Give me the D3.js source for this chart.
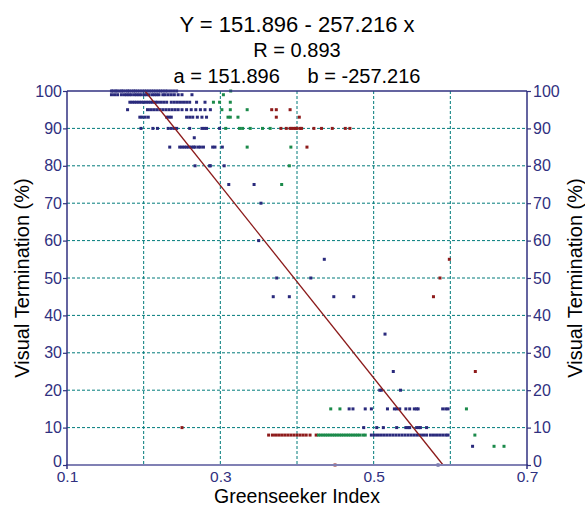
<!DOCTYPE html>
<html>
<head>
<meta charset="utf-8">
<script src="https://cdn.jsdelivr.net/npm/d3@7/dist/d3.min.js"></script>
<style>
  html, body { margin: 0; padding: 0; background: #fff; }
  svg { display: block; }
  text { font-family: Arial, "Liberation Sans", sans-serif; }
</style>
</head>
<body>
<svg id="chart" width="585" height="508"></svg>
<script>
// Regression coefficients
const interceptA = 151.896;
const slopeB = -257.216;
const corrR = 0.893;

// Axis ticks
const xTickValues = [0.1, 0.3, 0.5, 0.7];
const xGridValues = [0.2, 0.3, 0.4, 0.5, 0.6];
const yTickValues = [0, 10, 20, 30, 40, 50, 60, 70, 80, 90, 100];
const yGridValues = [10, 20, 30, 40, 50, 60, 70, 80, 90];

// Observations per site: [Greenseeker index, visual termination %]
const siteBlue = [
  [0.158,100],[0.160,100],[0.163,100],[0.165,100],[0.168,100],[0.171,100],[0.173,100],[0.176,100],[0.179,100],[0.181,100],
  [0.184,100],[0.187,100],[0.189,100],[0.192,100],[0.195,100],[0.198,100],[0.201,100],[0.204,100],[0.207,100],[0.210,100],
  [0.213,100],[0.216,100],[0.219,100],[0.222,100],[0.225,100],[0.228,100],[0.231,100],[0.235,100],[0.239,100],[0.243,100],
  [0.158,99],[0.162,99],[0.166,99],[0.171,99],[0.175,99],[0.178,99],[0.181,99],[0.184,99],[0.188,99],[0.191,99],
  [0.194,99],[0.197,99],[0.201,99],[0.204,99],[0.207,99],[0.211,99],[0.214,99],[0.217,99],[0.220,99],[0.225,99],
  [0.228,99],[0.232,99],[0.236,99],[0.240,99],[0.245,99],[0.250,99],[0.263,99],
  [0.182,97],[0.185,97],[0.188,97],[0.191,97],[0.194,97],[0.197,97],[0.200,97],[0.203,97],[0.206,97],[0.209,97],
  [0.212,97],[0.215,97],[0.218,97],[0.222,97],[0.226,97],[0.230,97],[0.236,97],[0.240,97],[0.244,97],[0.248,97],
  [0.252,97],[0.256,97],[0.260,97],[0.269,97],[0.280,97],
  [0.179,95],[0.205,95],[0.209,95],[0.213,95],[0.217,95],[0.221,95],[0.225,95],[0.229,95],[0.233,95],[0.237,95],
  [0.241,95],[0.245,95],[0.250,95],[0.256,95],[0.262,95],[0.268,95],[0.274,95],[0.280,95],[0.287,95],
  [0.195,93],[0.198,93],[0.202,93],[0.206,93],[0.230,93],[0.233,93],[0.236,93],[0.256,93],[0.260,93],[0.264,93],
  [0.270,93],[0.276,93],[0.282,93],
  [0.1965,90],[0.212,90],[0.218,90],[0.232,90],[0.236,90],[0.240,90],[0.243,90],[0.260,90],[0.276,90],[0.279,90],
  [0.282,90],[0.299,90],
  [0.266,87.5],
  [0.234,85],[0.247,85],[0.250,85],[0.253,85],[0.256,85],[0.259,85],[0.262,85],[0.265,85],[0.267,85],[0.271,85],
  [0.274,85],[0.278,85],[0.290,85],[0.293,85],[0.3026,85],
  [0.267,80],[0.286,80],[0.287,80],[0.305,80],
  [0.311,75],[0.344,75],
  [0.353,70],
  [0.350,60],
  [0.4356,55],
  [0.3735,50],[0.418,50],
  [0.369,45],[0.390,45],[0.448,45],[0.474,45],
  [0.5148,35],
  [0.5256,25],
  [0.508,20],[0.510,20],[0.535,20],
  [0.468,15],[0.473,15],[0.489,15],[0.497,15],[0.518,15],[0.527,15],[0.530,15],[0.534,15],[0.542,15],[0.547,15],
  [0.553,15],[0.556,15],[0.558,15],[0.590,15],[0.594,15],[0.597,15],
  [0.487,10],[0.504,10],[0.5126,10],[0.530,10],[0.542,10],[0.545,10],[0.547,10],[0.556,10],[0.559,10],[0.561,10],
  [0.569,10],
  [0.497,8],[0.501,8],[0.505,8],[0.509,8],[0.513,8],[0.517,8],[0.521,8],[0.525,8],[0.529,8],[0.533,8],
  [0.537,8],[0.541,8],[0.545,8],[0.549,8],[0.553,8],[0.557,8],[0.561,8],[0.565,8],[0.569,8],[0.574,8],
  [0.578,8],[0.582,8],[0.586,8],[0.590,8],[0.594,8],[0.597,8],
  [0.629,5],
  [0.584,0]
];

const siteRed = [
  [0.367,95],[0.373,95],[0.391,95],
  [0.373,93],[0.403,93],
  [0.379,90],[0.386,90],[0.391,90],[0.393,90],[0.396,90],[0.398,90],[0.400,90],[0.404,90],[0.406,90],
  [0.422,90],[0.432,90],[0.446,90],[0.463,90],[0.469,90],
  [0.413,85],
  [0.5987,55],
  [0.5865,50],
  [0.578,45],
  [0.6326,25],
  [0.250,10],
  [0.363,8],[0.368,8],[0.372,8],[0.376,8],[0.380,8],[0.384,8],[0.388,8],[0.392,8],[0.396,8],[0.400,8],
  [0.404,8],[0.408,8],[0.412,8],[0.417,8],[0.425,8],
  [0.4496,0]
];

const siteGreen = [
  [0.3135,100],
  [0.304,99],
  [0.291,97],[0.299,97],[0.313,97],
  [0.302,95],[0.313,95],[0.335,95],
  [0.310,93],[0.313,93],[0.323,93],
  [0.307,90],[0.325,90],[0.329,90],[0.339,90],[0.355,90],[0.365,90],
  [0.335,85],[0.392,85],
  [0.390,80],
  [0.380,75],
  [0.444,15],[0.456,15],[0.621,15],
  [0.428,8],[0.431,8],[0.434,8],[0.437,8],[0.440,8],[0.443,8],[0.446,8],[0.449,8],[0.452,8],[0.455,8],
  [0.458,8],[0.461,8],[0.464,8],[0.467,8],[0.470,8],[0.473,8],[0.476,8],[0.479,8],[0.482,8],[0.486,8],
  [0.489,8],[0.632,8],
  [0.657,5],[0.670,5]
];

const seriesList = [
  { data: siteBlue, color: "#2a2a7c" },
  { data: siteRed, color: "#8e1b1b" },
  { data: siteGreen, color: "#1b8a4a" }
];

const svg = d3.select("#chart");
const plot = { left: 67, right: 527, top: 91, bottom: 465 };

const x = d3.scaleLinear().domain([0.1, 0.7]).range([plot.left, plot.right]);
const y = d3.scaleLinear().domain([0, 100]).range([plot.bottom, plot.top]);

const axisColor = "#303080";
const gridColor = "#007b7b";

// Dotted grid
const grid = svg.append("g");
grid.selectAll("line.vg").data(xGridValues).join("line")
  .attr("x1", d => x(d)).attr("x2", d => x(d))
  .attr("y1", plot.top).attr("y2", plot.bottom)
  .attr("stroke", gridColor).attr("stroke-width", 1).attr("stroke-dasharray", "3,2");
grid.selectAll("line.hg").data(yGridValues).join("line")
  .attr("x1", plot.left).attr("x2", plot.right)
  .attr("y1", d => y(d)).attr("y2", d => y(d))
  .attr("stroke", gridColor).attr("stroke-width", 1).attr("stroke-dasharray", "3,2");

// Points
seriesList.forEach(s => {
  svg.append("g").selectAll("rect").data(s.data).join("rect")
    .attr("x", d => x(d[0]) - 1.5)
    .attr("y", d => y(d[1]) - 1.5)
    .attr("width", 3).attr("height", 3)
    .attr("fill", s.color);
});

// Regression line, clipped to the 0–100 range
const xAt = v => (v - interceptA) / slopeB;
svg.append("line")
  .attr("x1", x(xAt(100))).attr("y1", y(100))
  .attr("x2", x(xAt(0))).attr("y2", y(0))
  .attr("stroke", "#8b1a1a").attr("stroke-width", 1.3);

// Frame
svg.append("line").attr("x1", plot.left).attr("x2", plot.right)
  .attr("y1", plot.top).attr("y2", plot.top).attr("stroke", axisColor).attr("stroke-width", 1.5);
svg.append("line").attr("x1", plot.left - 1).attr("x2", plot.right + 1)
  .attr("y1", plot.bottom).attr("y2", plot.bottom).attr("stroke", "#8080b4").attr("stroke-width", 2);

// Left and right axes
const leftAxis = d3.axisLeft(y).tickValues(yTickValues).tickSize(4).tickPadding(1).tickFormat(d3.format("d"));
const rightAxis = d3.axisRight(y).tickValues(yTickValues).tickSize(4).tickPadding(2).tickFormat(d3.format("d"));
const bottomAxis = d3.axisBottom(x).tickValues(xTickValues).tickSize(0).tickPadding(6).tickFormat(d3.format(".1f"));

function styleAxis(g) {
  g.select(".domain").attr("stroke", axisColor).attr("stroke-width", 1.5);
  g.selectAll(".tick line").attr("stroke", axisColor).attr("stroke-width", 1.2);
  g.selectAll(".tick text").attr("fill", axisColor).style("font-size", "16px")
    .style("font-family", "Arial, 'Liberation Sans', sans-serif");
}

// The zero label sits a little above its tick so it clears the x labels
const liftZero = g => g.selectAll(".tick").filter(d => d === 0).select("text").attr("y", -4);

svg.append("g").attr("transform", `translate(${plot.left},0)`).call(leftAxis).call(styleAxis).call(liftZero)
  .call(g => g.select(".domain").attr("d", `M0,${plot.top}V${plot.bottom + 4}`));
svg.append("g").attr("transform", `translate(${plot.right},0)`).call(rightAxis).call(styleAxis).call(liftZero)
  .call(g => g.select(".domain").attr("d", `M0,${plot.top}V${plot.bottom + 4}`));
svg.append("g").attr("transform", `translate(0,${plot.bottom})`).call(bottomAxis).call(styleAxis)
  .call(g => g.select(".domain").remove())
  .call(g => g.selectAll(".tick text").style("font-size", "15.5px"));

// Titles
const cx = (plot.left + plot.right) / 2;
svg.append("text").attr("x", cx).attr("y", 31.5).attr("text-anchor", "middle")
  .style("font-size", "22px").attr("fill", "#000")
  .text(`Y = ${interceptA} - ${Math.abs(slopeB)} x`);
svg.append("text").attr("x", cx).attr("y", 57).attr("text-anchor", "middle")
  .style("font-size", "20px").attr("fill", "#000")
  .text(`R = ${corrR}`);
svg.append("text").attr("x", cx).attr("y", 82.5).attr("text-anchor", "middle")
  .style("font-size", "20px").attr("fill", "#000").style("white-space", "pre")
  .text(`a = ${interceptA}     b = ${slopeB}`);

svg.append("text").attr("x", cx).attr("y", 503).attr("text-anchor", "middle")
  .style("font-size", "19.5px").attr("fill", "#000").text("Greenseeker Index");
svg.append("text").attr("transform", `translate(29,${(plot.top + plot.bottom) / 2}) rotate(-90)`)
  .attr("text-anchor", "middle").style("font-size", "20px").attr("fill", "#000")
  .text("Visual Termination (%)");
svg.append("text").attr("transform", `translate(582,${(plot.top + plot.bottom) / 2}) rotate(-90)`)
  .attr("text-anchor", "middle").style("font-size", "20px").attr("fill", "#000")
  .text("Visual Termination (%)");
</script>
</body>
</html>
